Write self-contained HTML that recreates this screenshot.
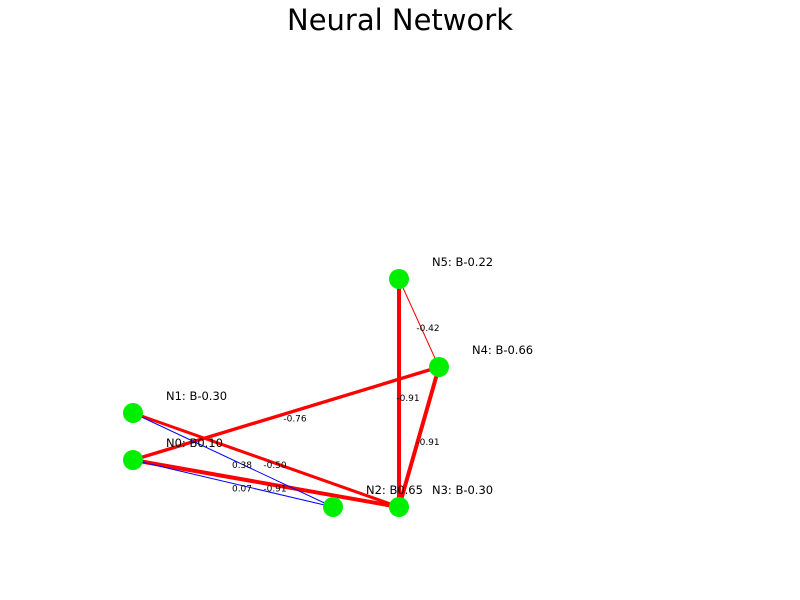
<!DOCTYPE html>
<html><head><meta charset="utf-8"><style>
html,body{margin:0;padding:0;background:#fff;}
svg{display:block;font-family:"DejaVu Sans","Liberation Sans",sans-serif;}
</style></head><body>
<svg id="chart" width="800" height="600">
<text x="400" y="30" text-anchor="middle" font-size="29" fill="#000">Neural Network</text>
<g id="edges"></g><g id="edge-labels"></g><g id="nodes"></g>
</svg>
<script>
const nodeIds = ["N0","N1","N2","N3","N4","N5"];
const nodeBias = ["0.10","-0.30","0.65","-0.30","-0.66","-0.22"];
const nodeX = [133,133,333,399,439,399];
const nodeY = [460,413,507,507,367,279];
const edgeFrom = [5,5,4,0,1,0,1,0];
const edgeTo = [3,4,3,4,3,3,2,2];
const edgeWeight = [-0.91,-0.42,-0.91,-0.76,-0.50,-0.91,0.38,0.07];
const NS="http://www.w3.org/2000/svg";
const eg=document.getElementById('edges'), lg=document.getElementById('edge-labels'), ng=document.getElementById('nodes');
function fmt(v){return v.toFixed(2);}
for(let i=0;i<edgeFrom.length;i++){
  const a=edgeFrom[i], b=edgeTo[i], w=edgeWeight[i];
  const l=document.createElementNS(NS,'line');
  l.setAttribute('x1',nodeX[a]);l.setAttribute('y1',nodeY[a]);
  l.setAttribute('x2',nodeX[b]);l.setAttribute('y2',nodeY[b]);
  l.setAttribute('stroke', w<0?'#ff0000':'#0000ff');
  l.setAttribute('stroke-width', Math.abs(w)>0.45?Math.max(3,Math.abs(w)*4.4):1);
  
  
  eg.appendChild(l);
  const t=document.createElementNS(NS,'text');
  t.setAttribute('x',(nodeX[a]+nodeX[b])/2+9);
  t.setAttribute('y',(nodeY[a]+nodeY[b])/2+8);
  t.setAttribute('font-size','9');t.setAttribute('text-anchor','middle');
  t.textContent=fmt(w);
  
  
  lg.appendChild(t);
}
for(let i=0;i<nodeIds.length;i++){
  const c=document.createElementNS(NS,'circle');
  c.setAttribute('cx',nodeX[i]);c.setAttribute('cy',nodeY[i]);c.setAttribute('r',10);
  c.setAttribute('fill','#00ee00');
  
  
  ng.appendChild(c);
  const t=document.createElementNS(NS,'text');
  t.setAttribute('x',nodeX[i]+33);t.setAttribute('y',nodeY[i]-13);
  t.setAttribute('font-size','11.5');
  t.textContent=nodeIds[i]+': B'+nodeBias[i];
  
  
  ng.appendChild(t);
}
</script>
</body></html>
